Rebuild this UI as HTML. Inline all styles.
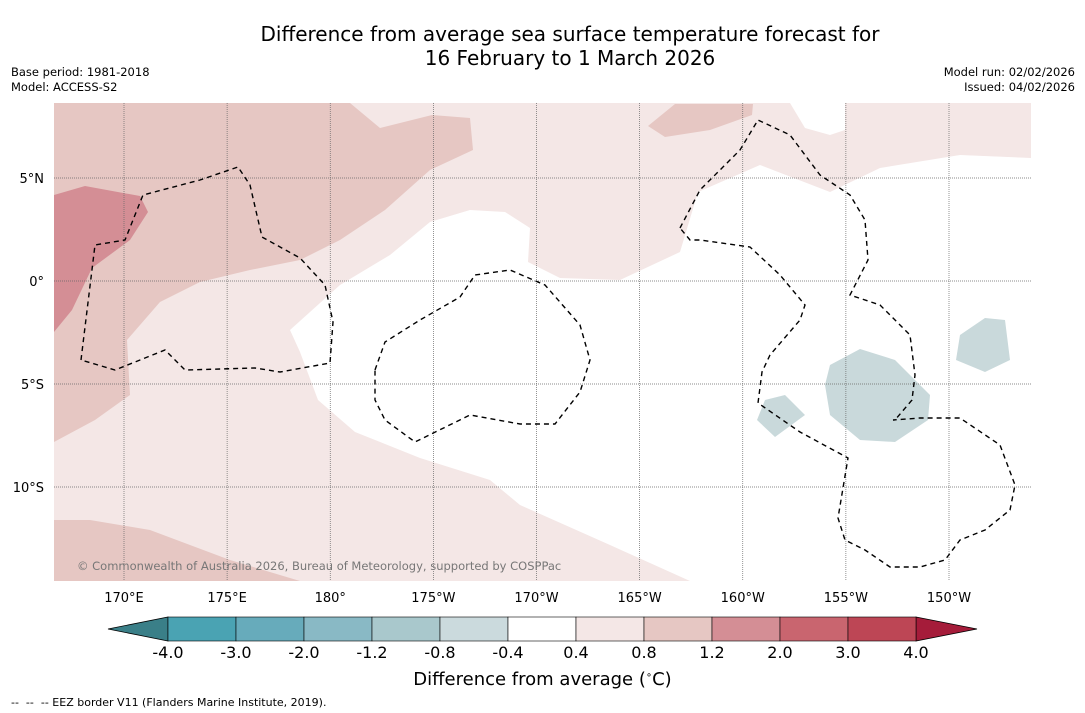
<!DOCTYPE html>
<html><head><meta charset="utf-8"><style>
body{margin:0;background:#fff;font-family:"DejaVu Sans","Liberation Sans",sans-serif;}
#wrap{position:relative;width:1085px;height:713px;overflow:hidden;background:#fff}
.t{position:absolute;white-space:nowrap;color:#000}
</style></head><body>
<div id="wrap">
<div class="t" style="left:0;width:1140px;text-align:center;top:22px;font-size:20px;line-height:24px">Difference from average sea surface temperature forecast for<br>16 February to 1 March 2026</div>
<div class="t" style="left:11px;top:65px;font-size:11.5px;line-height:15px">Base period: 1981-2018<br>Model: ACCESS-S2</div>
<div class="t" style="right:10px;top:65px;font-size:11.5px;line-height:15px;text-align:right">Model run: 02/02/2026<br>Issued: 04/02/2026</div>
<svg id="map" style="position:absolute;left:0;top:0" width="1085" height="713">
<defs><clipPath id="mc"><rect x="54" y="103" width="977" height="478"/></clipPath></defs>
<g clip-path="url(#mc)">
<rect x="54" y="103" width="977" height="478" fill="#f4e7e6"/>
<path fill="#fff" d="M290,330 L340,285 L390,255 L430,222 L470,210 L505,212 L530,228 L528,262 L560,278 L620,280 L680,252 L698,192 L760,165 L830,192 L880,168 L960,155 L1031,158 L1031,581 L690,581 L610,545 L520,505 L490,480 L420,458 L355,432 L318,400 L300,352 Z"/>
<path fill="#fff" d="M790,103 L845,103 L845,130 L830,135 L805,128 Z"/>
<path fill="#fff" d="M255,103 L282,103 L285,128 L275,130 Z"/>
<path fill="#fff" d="M60,103 L120,103 L112,112 L75,110 Z"/>
<path fill="#e6c7c3" d="M54,103 L350,103 L380,128 L432,115 L470,118 L473,150 L430,170 L385,210 L340,240 L300,260 L250,270 L200,282 L160,302 L127,340 L130,395 L95,420 L54,442 Z"/>
<path fill="#e6c7c3" d="M648,126 L675,104 L753,104 L752,115 L710,130 L665,137 Z"/>
<path fill="#e6c7c3" d="M54,520 L90,520 L150,530 L230,560 L300,581 L54,581 Z"/>
<path fill="#d48e95" d="M54,195 L85,186 L140,196 L148,212 L130,240 L92,268 L72,310 L54,332 Z"/>
<path fill="#c9d9db" d="M830,365 L860,349 L895,360 L930,395 L928,420 L895,442 L860,440 L830,415 L825,385 Z"/>
<path fill="#c9d9db" d="M765,400 L785,395 L805,415 L775,437 L757,420 Z"/>
<path fill="#c9d9db" d="M960,335 L985,318 L1005,320 L1010,360 L985,372 L956,360 Z"/>
<g id="grid" stroke="#666" stroke-width="0.7" stroke-dasharray="1,1"></g>
<g fill="none" stroke="#000" stroke-width="1.4" stroke-dasharray="5,4">
<polyline points="81,360 95,245 125,240 143,195 200,180 238,167 250,185 262,237 300,258 325,285 333,322 330,363 280,372 255,368 185,370 165,350 115,370 81,360"/>
<polyline points="375,370 385,342 420,320 460,297 475,275 510,270 545,285 580,325 590,360 580,392 555,424 520,424 470,415 415,442 385,420 375,400 375,370"/>
<polyline points="680,228 700,190 740,150 758,120 790,135 820,175 850,195 865,220 868,260 850,295 880,305 910,335 915,375 912,400 895,420 893,420 920,418 960,418 1000,445 1015,485 1010,510 985,530 960,540 945,560 920,567 890,567 865,550 845,540 838,518 848,458 800,432 758,403 762,372 770,355 800,320 805,305 780,275 750,247 700,240 690,240 680,228"/>
</g>
</g>
<text x="77" y="570" font-size="11.5" fill="#777" font-family="DejaVu Sans,sans-serif">© Commonwealth of Australia 2026, Bureau of Meteorology, supported by COSPPac</text>
<g id="xlabels" font-size="13" text-anchor="middle" font-family="DejaVu Sans,sans-serif"></g>
<g id="ylabels" font-size="13" text-anchor="end" font-family="DejaVu Sans,sans-serif"></g>
<g id="cbar"></g>
</svg>
<div class="t" style="left:0;width:1085px;text-align:center;top:669px;font-size:18px">Difference from average (<sup style="font-size:10px">∘</sup>C)</div>
<div class="t" style="left:11px;top:696px;font-size:11px">-- &nbsp;-- &nbsp;-- EEZ border V11 (Flanders Marine Institute, 2019).</div>
</div>
<script>
const NS="http://www.w3.org/2000/svg";
const lonLabels=["170°E","175°E","180°","175°W","170°W","165°W","160°W","155°W","150°W"];
const lonValues=[170,175,180,185,190,195,200,205,210];
const latLabels=["5°N","0°","5°S","10°S"];
const latValues=[5,0,-5,-10];
const cbLevels=["-4.0","-3.0","-2.0","-1.2","-0.8","-0.4","0.4","0.8","1.2","2.0","3.0","4.0"];
const cbColors=["#4aa3b3","#67abbb","#89b9c5","#a9c8cc","#cbdadd","#ffffff","#f4e7e6","#e6c7c3","#d48e95","#c9656f","#bd4655"];
const xPos=l=>124+(l-170)*20.625;
const yPos=v=>281-v*20.6;
const grid=document.getElementById('grid');
const xl=document.getElementById('xlabels'), yl=document.getElementById('ylabels');
lonValues.forEach((v,i)=>{
 const ln=document.createElementNS(NS,'line');
 
 
 ln.setAttribute('x1',xPos(v));ln.setAttribute('x2',xPos(v));ln.setAttribute('y1',103);ln.setAttribute('y2',581);grid.appendChild(ln);
 const t=document.createElementNS(NS,'text');
 
 
 t.setAttribute('x',xPos(v));t.setAttribute('y',602);t.textContent=lonLabels[i];xl.appendChild(t);
});
latValues.forEach((v,i)=>{
 const ln=document.createElementNS(NS,'line');
 
 
 ln.setAttribute('x1',54);ln.setAttribute('x2',1031);ln.setAttribute('y1',yPos(v));ln.setAttribute('y2',yPos(v));grid.appendChild(ln);
 const t=document.createElementNS(NS,'text');
 
 
 t.setAttribute('x',44);t.setAttribute('y',yPos(v)+5);t.textContent=latLabels[i];yl.appendChild(t);
});
const cb=document.getElementById('cbar');
const x0=168,w=68,y0=617,h=24;
function add(tag,attrs,name){const e=document.createElementNS(NS,tag);for(const k in attrs)e.setAttribute(k,attrs[k]);
 
 
 cb.appendChild(e);return e;}
add('polygon',{points:`108,629 ${x0},${y0} ${x0},${y0+h}`,fill:'#3a7f88',stroke:'#000','stroke-width':0.8},'colorbar-low-extend');
const xe=x0+cbColors.length*w;
add('polygon',{points:`${xe},${y0} 977,629 ${xe},${y0+h}`,fill:'#a51c3a',stroke:'#000','stroke-width':0.8},'colorbar-high-extend');
cbColors.forEach((c,i)=>{add('rect',{x:x0+i*w,y:y0,width:w,height:h,fill:c,stroke:'#000','stroke-width':0.6},'colorbar-segment');});
cbLevels.forEach((s,i)=>{const t=add('text',{x:x0+i*w,y:658,'font-size':16,'text-anchor':'middle','font-family':'DejaVu Sans,sans-serif'},'colorbar-tick-label');t.textContent=s;});
</script>
</body></html>
